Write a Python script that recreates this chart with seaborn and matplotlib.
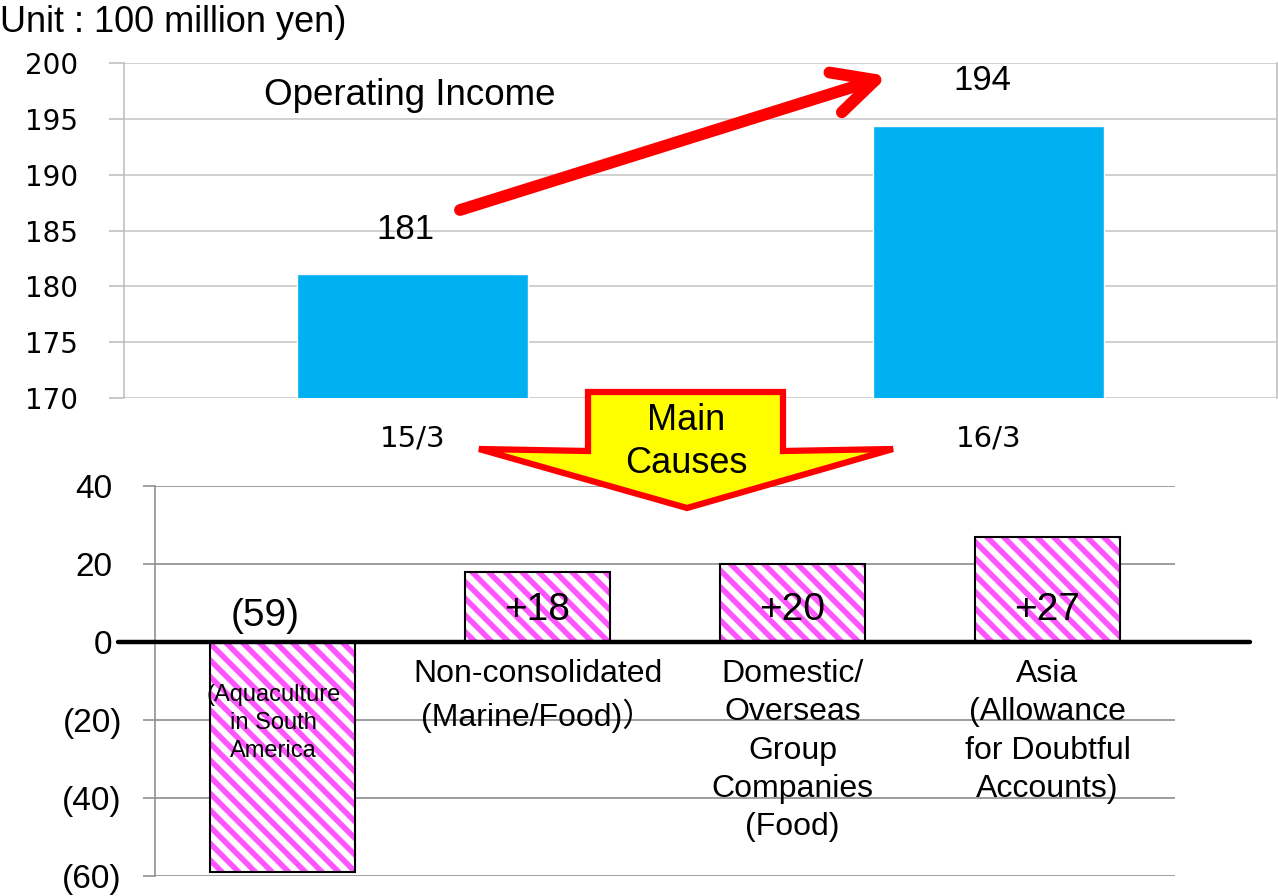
import numpy as np
import pandas as pd
import matplotlib
matplotlib.use("Agg")
import matplotlib.pyplot as plt
import matplotlib.transforms as mtransforms
from matplotlib.patches import Polygon, FancyArrowPatch
import seaborn as sns

# data
periods = ['15/3', '16/3']
income = [181.1, 194.4]
income_labels = ['181', '194']

causes = ['Aquaculture', 'Non-consolidated', 'Domestic', 'Asia']
cause_values = [-59, 18, 20, 27]
cause_value_labels = ['(59)', '+18', '+20', '+27']
cause_names = ['',
               'Non-consolidated\n(Marine/Food)\uff09',
               'Domestic/\nOverseas\nGroup\nCompanies\n(Food)',
               'Asia\n(Allowance\nfor Doubtful\nAccounts)']
inner_note = '(Aquaculture\nin South\nAmerica'

bottom_ticks = [-60, -40, -20, 0, 20, 40]
bottom_tick_labels = ['(60)', '(40)', '(20)', '0', '20', '40']

sns.set_theme(style="white")
plt.rcParams['font.family'] = ['Liberation Sans', 'Noto Sans CJK JP', 'DejaVu Sans']
plt.rcParams['text.color'] = 'black'
plt.rcParams['hatch.linewidth'] = 4

W, H = 1278, 896
fig = plt.figure(figsize=(W / 100, H / 100), dpi=100)

def px(x, y):
    # pixel position -> figure fraction
    return x / W, 1 - y / H

# ---- top panel: operating income
ax1 = fig.add_axes([124 / W, 1 - 398 / H, 1153 / W, 335 / H])
top_df = pd.DataFrame({'period': periods, 'income': income})
sns.barplot(data=top_df, x='period', y='income', color='#00b0f0', saturation=1,
            width=0.4, ax=ax1)
ax1.set_ylim(170, 200)
ax1.set_xlim(-0.5, 1.5)
ax1.set_yticks(np.arange(170, 201, 5))
ax1.set_xlabel('')
ax1.set_ylabel('')
ax1.grid(axis='y', color='#c8c8c8', linewidth=1.2)
ax1.set_axisbelow(True)
for s in ['top', 'bottom']:
    ax1.spines[s].set_visible(False)
for s in ['left', 'right']:
    ax1.spines[s].set_color('#c0c0c0')
    ax1.spines[s].set_linewidth(1.2)
ax1.tick_params(axis='y', left=True, length=11, width=1.2, color='#c0c0c0', pad=22,
                labelsize=20, labelcolor='black')
ax1.tick_params(axis='x', bottom=False, pad=13, labelsize=21, labelcolor='black')
for lab in ax1.get_yticklabels() + ax1.get_xticklabels():
    lab.set_fontfamily('DejaVu Sans')
for i, (v, t) in enumerate(zip(income, income_labels)):
    ax1.text(i - 0.012, v + 4.0, t, ha='center', va='center', fontsize=25)
ax1.text(-0.258, 197.05, 'Operating Income', ha='left', va='center', fontsize=26.5)

fig.text(0.0, 1 - 22 / H, 'Unit : 100 million yen)', ha='left', va='center',
         fontsize=26)

# red arrow
fig.add_artist(FancyArrowPatch(
    px(460, 210), px(888, 76), transform=fig.transFigure,
    arrowstyle='->,head_length=1.5,head_width=0.75', color='#ff0000',
    linewidth=8.5, mutation_scale=20, shrinkA=0, shrinkB=0,
    capstyle='round', joinstyle='round', zorder=5))

# ---- bottom panel: main causes
ax2 = fig.add_axes([155 / W, 20 / H, 1020 / W, 390 / H])
bot_df = pd.DataFrame({'cause': causes, 'value': cause_values})
sns.barplot(data=bot_df, x='cause', y='value', color='white', saturation=1,
            width=0.57, ax=ax2, edgecolor='#ff55ff', linewidth=0, hatch='\\\\')
sns.barplot(data=bot_df, x='cause', y='value', fill=False, width=0.57, ax=ax2,
            edgecolor='black', linewidth=1.5)
ax2.set_ylim(-60, 40)
ax2.set_xlim(-0.5, 3.5)
ax2.set_yticks(bottom_ticks)
ax2.set_yticklabels([])
ax2.set_xticks([])
ax2.set_xlabel('')
ax2.set_ylabel('')
ax2.grid(axis='y', color='#8c8c8c', linewidth=1.2)
ax2.set_axisbelow(True)
for s in ['top', 'bottom', 'right']:
    ax2.spines[s].set_visible(False)
ax2.spines['left'].set_color('#909090')
ax2.spines['left'].set_linewidth(1.2)
ax2.tick_params(axis='y', left=True, length=9, width=1.2, color='#909090')
ax2.axhline(0, xmin=-0.036, xmax=1.074, color='black', linewidth=3.2, clip_on=False,
            zorder=4)

# accounting-style tick labels: positives leave room for the closing bracket
ytrans = mtransforms.blended_transform_factory(ax2.transAxes, ax2.transData)
for v, t in zip(bottom_ticks, bottom_tick_labels):
    xr = -0.0324 if t.startswith('(') else -0.0422
    ax2.text(xr, v, t, transform=ytrans, ha='right', va='center_baseline',
             fontsize=24, clip_on=False)

for i, (v, t) in enumerate(zip(cause_values, cause_value_labels)):
    ax2.text(i - 0.07 if v < 0 else i, 6.6 if v < 0 else 8.3, t, ha='center',
             va='center', fontsize=28, zorder=6)
for i, t in enumerate(cause_names):
    if t:
        ax2.text(i, -4.4, t, ha='center', va='top', fontsize=23, linespacing=1.36,
                 zorder=6)
ax2.text(-0.035, -10.7, inner_note, ha='center', va='top', fontsize=17,
         linespacing=1.36, zorder=6)

# yellow "Main Causes" arrow
pts = [px(588, 392), px(783, 392), px(783, 451), px(893, 449), px(687, 508),
       px(479, 449), px(588, 451)]
fig.add_artist(Polygon(pts, closed=True, transform=fig.transFigure,
                       facecolor='#ffff00', edgecolor='#ff0000', linewidth=4.5,
                       joinstyle='miter', zorder=8))
fig.text(686 / W, 1 - 442 / H, 'Main\nCauses', ha='center', va='center',
         fontsize=26, linespacing=1.32, zorder=9)

fig.savefig('out.png', dpi=100)
